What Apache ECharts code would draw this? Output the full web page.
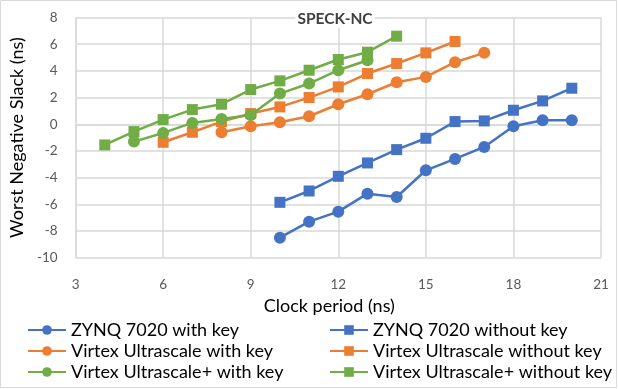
<!DOCTYPE html>
<html><head><meta charset="utf-8">
<script src="https://cdn.jsdelivr.net/npm/echarts@6/dist/echarts.min.js"></script>
<style>html,body{margin:0;padding:0;background:#fff}#c{width:618px;height:389px}</style>
</head><body><div id="c"></div>
<script>
const zynqWithX = [10,11,12,13,14,15,16,17,18,19,20];
const zynqWithY = [-8.5,-7.3,-6.55,-5.2,-5.45,-3.45,-2.6,-1.7,-0.15,0.3,0.3];
const zynqWithoutX = [10,11,12,13,14,15,16,17,18,19,20];
const zynqWithoutY = [-5.85,-5.0,-3.9,-2.9,-1.9,-1.05,0.2,0.25,1.05,1.75,2.7];
const vuWithX = [8,9,10,11,12,13,14,15,16,17];
const vuWithY = [-0.6,-0.15,0.15,0.6,1.5,2.25,3.15,3.55,4.65,5.35];
const vuWithoutX = [6,7,8,9,10,11,12,13,14,15,16];
const vuWithoutY = [-1.35,-0.6,0.2,0.8,1.3,2.0,2.8,3.8,4.55,5.35,6.2];
const vupWithX = [5,6,7,8,9,10,11,12,13];
const vupWithY = [-1.3,-0.65,0.1,0.4,0.7,2.3,3.05,4.05,4.8];
const vupWithoutX = [4,5,6,7,8,9,10,11,12,13,14];
const vupWithoutY = [-1.55,-0.55,0.35,1.1,1.5,2.6,3.25,4.05,4.85,5.4,6.6];
const names = ['ZYNQ 7020 with key','ZYNQ 7020 without key','Virtex Ultrascale with key','Virtex Ultrascale without key','Virtex Ultrascale+ with key','Virtex Ultrascale+ without key'];
const xTicks = [3,6,9,12,15,18,21];
const yTicks = [-10,-8,-6,-4,-2,0,2,4,6,8];

const blue='#4472C4', orange='#ED7D31', green='#70AD47';
const defs = [
  [zynqWithX,zynqWithY,blue,'circle'],
  [zynqWithoutX,zynqWithoutY,blue,'rect'],
  [vuWithX,vuWithY,orange,'circle'],
  [vuWithoutX,vuWithoutY,orange,'rect'],
  [vupWithX,vupWithY,green,'circle'],
  [vupWithoutX,vupWithoutY,green,'rect']
];
const font = 'Lato, "Open Sans", sans-serif';
// choose font sizes so that text widths match the reference
const cv = document.createElement('canvas').getContext('2d');
function fit(text, weight, target){
  cv.font = weight+' 20px '+font;
  const w = cv.measureText(text).width;
  return Math.round(20*target/w*2)/2;
}
const titleSize = fit('SPECK-NC','bold',76);
const legendSize = fit('Virtex Ultrascale+ with key','normal',213);
const xNameSize = fit('Clock period (ns)','normal',132);
const yNameSize = fit('Worst Negative Slack (ns)','normal',203);
const tickSize = fit('-10','normal',21);

const series = defs.map((d,i)=>({
  name:names[i], type:'line',
  data:d[0].map((x,j)=>[x,d[1][j]]),
  symbol:d[3], symbolSize:d[3]==='rect'?11:12,
  lineStyle:{color:d[2],width:2.5},
  itemStyle:{color:d[2]},
  color:d[2], z:2+i
}));
const legendText = {fontSize:legendSize,lineHeight:16,color:'#000',fontFamily:font};
const chart = echarts.init(document.getElementById('c'));
chart.setOption({
  animation:false,
  textStyle:{fontFamily:font},
  title:{text:'SPECK-NC',left:333,top:10,textAlign:'center',padding:[1,2],backgroundColor:'#fff',z:10,
    textStyle:{fontSize:titleSize,lineHeight:titleSize,fontWeight:'bold',color:'#404040',fontFamily:font}},
  grid:{left:73,right:17,top:17.5,bottom:131.3,show:false},
  xAxis:{type:'value',min:3,max:21,interval:3,
    name:'Clock period (ns)',nameLocation:'middle',nameGap:39,
    nameTextStyle:{fontSize:xNameSize,color:'#000',fontFamily:font,padding:[0,18,0,0]},
    axisLine:{show:true,lineStyle:{color:'#d9d9d9',width:1.5}},axisTick:{show:false},
    axisLabel:{margin:20,fontSize:tickSize,color:'#595959',formatter:v=>xTicks.includes(v)?String(v):''},
    splitLine:{show:true,lineStyle:{color:'#d9d9d9',width:1.5}}},
  yAxis:{type:'value',min:-10,max:8,interval:2,
    name:'Worst Negative Slack (ns)',nameLocation:'middle',nameGap:36,nameRotate:90,
    nameTextStyle:{fontSize:yNameSize,color:'#000',fontFamily:font},
    axisLine:{show:true,lineStyle:{color:'#d9d9d9',width:1.5}},axisTick:{show:false},
    axisLabel:{margin:18,fontSize:tickSize,color:'#595959',formatter:v=>yTicks.includes(v)?String(v):''},
    splitLine:{show:true,lineStyle:{color:'#d9d9d9',width:1.5}}},
  legend:[
    {orient:'vertical',left:27,top:321,height:70,itemWidth:38,itemHeight:12,itemGap:3,padding:0,
     data:[names[0],names[2],names[4]],textStyle:legendText},
    {orient:'vertical',left:329,top:321,height:70,itemWidth:38,itemHeight:12,itemGap:3,padding:0,
     data:[names[1],names[3],names[5]],textStyle:legendText}
  ],
  graphic:[{type:'rect',shape:{x:0.5,y:0.5,width:616,height:387},style:{fill:null,stroke:'#d9d9d9',lineWidth:1},silent:true}],
  series:series
});
</script></body></html>
